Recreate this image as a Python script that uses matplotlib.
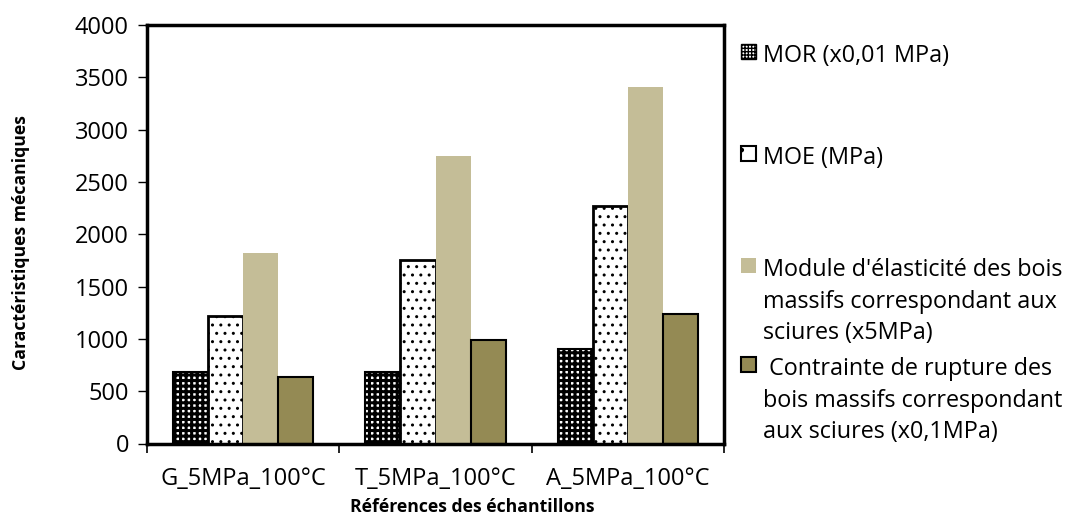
import matplotlib
matplotlib.use("Agg")
import matplotlib.pyplot as plt
import numpy as np
from matplotlib.patches import Patch

categories = ["G_5MPa_100°C", "T_5MPa_100°C", "A_5MPa_100°C"]
mor = [680, 685, 900]
moe = [1220, 1750, 2270]
module_bois = [1822, 2750, 3405]
contrainte = [640, 985, 1242]
series_labels = ["MOR (x0,01 MPa)", "MOE (MPa)",
                 "Module d'élasticité des bois\nmassifs correspondant aux\nsciures (x5MPa)",
                 " Contrainte de rupture des\nbois massifs correspondant\naux sciures (x0,1MPa)"]
yticks = [0, 500, 1000, 1500, 2000, 2500, 3000, 3500, 4000]

plt.rcParams['font.family'] = ['Open Sans', 'DejaVu Sans']
FS = 17
LFS = 16.8

W, H = 1066, 515
fig = plt.figure(figsize=(W / 100, H / 100), dpi=100)
ax = fig.add_axes([147 / W, 1 - 443.5 / H, (724 - 147) / W, (443.5 - 25) / H])

x = np.arange(len(categories))
w = 0.182
tan = '#C4BD97'
olive = '#948A54'

with plt.rc_context({'hatch.linewidth': 2.2}):
    b_mor = ax.bar(x - 1.5 * w, mor, w, facecolor='white', edgecolor='black',
                   hatch='+++', linewidth=1.5, zorder=2)
    h_mor = Patch(facecolor='white', edgecolor='black', hatch='+++++', linewidth=1)
with plt.rc_context({'hatch.linewidth': 1.0}):
    b_moe = ax.bar(x - 0.5 * w, moe, w, facecolor='white', edgecolor='black',
                   hatch='..', linewidth=2, zorder=2)
    h_moe = Patch(facecolor='white', edgecolor='black', hatch='.', linewidth=1.5)
b_mod = ax.bar(x + 0.5 * w, module_bois, w, facecolor=tan, edgecolor='none',
               linewidth=0, zorder=2)
b_con = ax.bar(x + 1.5 * w, contrainte, w, facecolor=olive, edgecolor='black',
               linewidth=1.5, zorder=2)

ax.set_xlim(-0.5, len(categories) - 0.5)
ax.set_ylim(0, 4000)
ax.set_yticks(yticks)
ax.set_yticklabels([str(v) for v in yticks], fontsize=FS)
ax.tick_params(axis='y', direction='out', length=6.5, width=1, pad=6.5)

ax.set_xticks(np.arange(-0.5, len(categories)), minor=False)
ax.set_xticklabels([])
ax.set_xticks(x, minor=True)
ax.set_xticklabels(categories, minor=True, fontsize=FS)
ax.tick_params(axis='x', which='major', direction='out', length=6.5, width=1.2)
ax.tick_params(axis='x', which='minor', length=0, pad=17)

for s in ax.spines.values():
    s.set_linewidth(2.5)
    s.set_color('black')

fig.text(472 / W, 1 - 507 / H, "Références des échantillons", ha='center', va='center',
         fontsize=12.7, fontweight='bold')
fig.text(21 / W, 1 - 243 / H, "Caractéristiques mécaniques", ha='center', va='center',
         rotation=90, fontsize=12.7, fontweight='bold')

# Legend entries (one legend per entry, to mimic the uneven spacing)
handles = [h_mor, h_moe,
           Patch(facecolor=tan, edgecolor='none'),
           Patch(facecolor=olive, edgecolor='black', linewidth=1.5)]
top_y = [44, 146, 258, 357]
for hdl, lab, yy in zip(handles, series_labels, top_y):
    lg = fig.legend([hdl], [lab], loc='upper left',
                    bbox_to_anchor=(741 / W, 1 - yy / H), frameon=False,
                    fontsize=LFS, handlelength=0.63, handleheight=0.63,
                    handletextpad=0.3, borderpad=0, borderaxespad=0,
                    labelspacing=0)
    for t in lg.get_texts():
        t.set_linespacing(1.42)
    try:
        item = lg._legend_handle_box.get_children()[0].get_children()[0]
        item.align = 'top'
    except Exception:
        pass

fig.savefig("out.png", dpi=100)
